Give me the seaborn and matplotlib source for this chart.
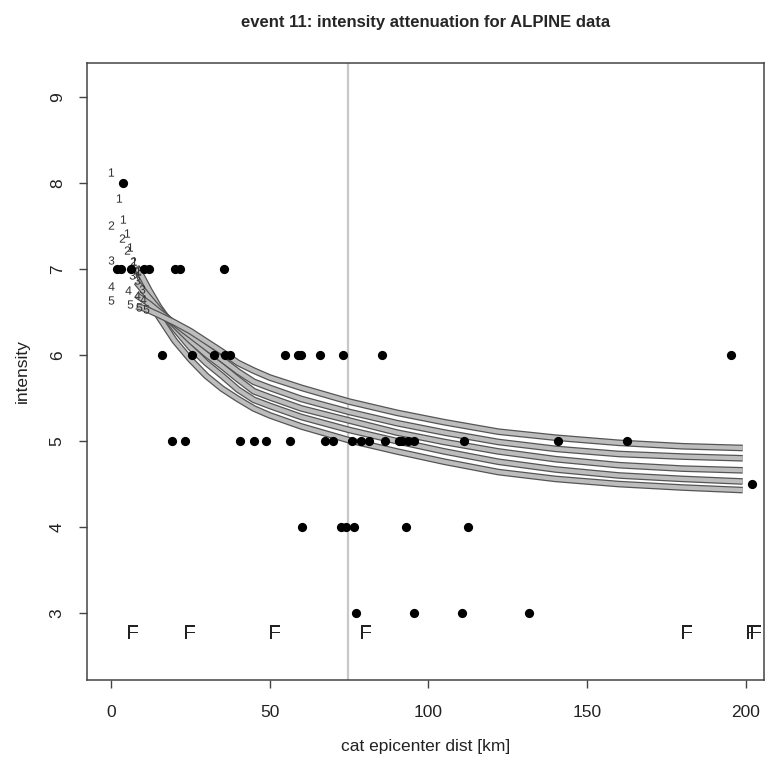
"""Intensity attenuation plot for event 11 (ALPINE data), redrawn with seaborn."""

import matplotlib

matplotlib.use("Agg")
import matplotlib.patheffects as pe
import matplotlib.pyplot as plt
import numpy as np
import pandas as pd
import seaborn as sns

# observed intensities (black dots): epicentral distance [km] and intensity
obs_dist = [3.8,
            1.9, 3.1, 6.3, 10.4, 11.9, 20.1, 21.7, 35.5,
            16.1, 25.6, 32.5, 35.8, 37.4, 54.9, 58.9, 60.0, 65.8, 73.1, 85.3, 195.2,
            19.3, 23.3, 40.8, 45.0, 48.7, 56.3, 67.5, 69.9, 75.9, 78.8, 81.4, 86.2,
            90.7, 91.8, 93.7, 95.3, 111.3, 140.7, 162.4,
            201.9,
            60.3, 72.5, 74.1, 76.7, 92.8, 112.4,
            77.3, 95.6, 110.6, 131.8]
obs_int = [8,
           7, 7, 7, 7, 7, 7, 7, 7,
           6, 6, 6, 6, 6, 6, 6, 6, 6, 6, 6, 6,
           5, 5, 5, 5, 5, 5, 5, 5, 5, 5, 5, 5,
           5, 5, 5, 5, 5, 5, 5,
           4.5,
           4, 4, 4, 4, 4, 4,
           3, 3, 3, 3]

# felt reports ("F") along the bottom
felt_dist = [7.0, 24.8, 51.6, 80.2, 181.4, 201.9, 203.1]
felt_int = [2.78] * len(felt_dist)

# attenuation curves 1..5 (dense part, drawn as bands)
curve_dist = [8, 10, 12, 15, 20, 25, 30, 35, 40, 45, 50,
              60, 75, 90, 105, 122, 140, 160, 180, 199]
curve_1 = [7.02, 6.82, 6.65, 6.45, 6.17, 5.95, 5.76, 5.61, 5.49, 5.38, 5.30,
           5.17, 5.01, 4.88, 4.76, 4.64, 4.56, 4.50, 4.46, 4.43]
curve_2 = [7.03, 6.90, 6.76, 6.57, 6.31, 6.09, 5.91, 5.76, 5.60, 5.48, 5.41,
           5.28, 5.13, 5.00, 4.88, 4.76, 4.67, 4.60, 4.56, 4.53]
curve_3 = [6.85, 6.76, 6.67, 6.54, 6.35, 6.17, 6.01, 5.87, 5.72, 5.58, 5.51,
           5.38, 5.24, 5.10, 4.99, 4.88, 4.79, 4.72, 4.68, 4.66]
curve_4 = [6.70, 6.65, 6.60, 6.51, 6.37, 6.23, 6.09, 5.95, 5.81, 5.69, 5.62,
           5.49, 5.34, 5.21, 5.10, 4.99, 4.91, 4.85, 4.82, 4.80]
curve_5 = [6.57, 6.55, 6.52, 6.47, 6.38, 6.28, 6.16, 6.04, 5.91, 5.82, 5.74,
           5.62, 5.46, 5.33, 5.22, 5.11, 5.04, 4.98, 4.94, 4.92]
curve_labels = ["1", "2", "3", "4", "5"]

# the sparse digits close to the source, where the curves are still separate
near_dist_1 = [0, 2.6, 3.9, 4.9, 6.0, 7.3, 8.5]
near_int_1 = [8.13, 7.83, 7.59, 7.42, 7.26, 7.10, 6.98]
near_dist_2 = [0, 3.4, 5.1, 7.0, 8.6]
near_int_2 = [7.51, 7.36, 7.22, 7.10, 6.99]
near_dist_3 = [0, 6.5, 8.3, 9.8]
near_int_3 = [7.11, 6.93, 6.87, 6.77]
near_dist_4 = [0, 5.4, 8.1, 10.0]
near_int_4 = [6.81, 6.76, 6.70, 6.65]
near_dist_5 = [0, 6.0, 8.9, 11.0]
near_int_5 = [6.64, 6.59, 6.56, 6.54]

# position of the grey reference line
ref_dist = 74.6

x_ticks = [0, 50, 100, 150, 200]
y_ticks = [3, 4, 5, 6, 7, 8, 9]

curves = pd.DataFrame({
    "dist": curve_dist * 5,
    "intensity": curve_1 + curve_2 + curve_3 + curve_4 + curve_5,
    "curve": np.repeat(curve_labels, len(curve_dist)),
})
near = pd.DataFrame({
    "dist": near_dist_1 + near_dist_2 + near_dist_3 + near_dist_4 + near_dist_5,
    "intensity": near_int_1 + near_int_2 + near_int_3 + near_int_4 + near_int_5,
    "curve": (["1"] * len(near_dist_1) + ["2"] * len(near_dist_2) + ["3"] * len(near_dist_3)
              + ["4"] * len(near_dist_4) + ["5"] * len(near_dist_5)),
})

sns.set_style("ticks")
plt.rcParams["font.family"] = ["Liberation Sans", "DejaVu Sans"]
plt.rcParams["mathtext.fontset"] = "custom"
plt.rcParams["mathtext.rm"] = "Liberation Sans"

fig = plt.figure(figsize=(7.65, 7.6), dpi=100)
ax = fig.add_axes([87 / 765, 80 / 760, 677 / 765, 617 / 760])

ax.axvline(ref_dist, color="#c8c8c8", lw=1.6, zorder=1)

for lab in curve_labels:
    band = curves[curves["curve"] == lab]
    sns.lineplot(data=band, x="dist", y="intensity", ax=ax, color="#bdbdbd", lw=3.0,
                 zorder=2, legend=False, solid_capstyle="butt",
                 path_effects=[pe.Stroke(linewidth=4.8, foreground="#555555",
                                         capstyle="butt"), pe.Normal()])
    sns.scatterplot(data=near[near["curve"] == lab], x="dist", y="intensity", ax=ax,
                    marker=rf"$\mathrm{{{lab}}}$", s=36, color="#333333",
                    linewidth=0, zorder=3, legend=False)

sns.scatterplot(x=obs_dist, y=obs_int, ax=ax, color="black", s=44, linewidth=0, zorder=4)
sns.scatterplot(x=felt_dist, y=felt_int, ax=ax, marker=r"$\mathrm{F}$", s=95,
                color="#222222", linewidth=0, zorder=4)

ax.set_xlim(-7.55, 205.7)
ax.set_ylim(2.22, 9.4)
ax.set_xticks(x_ticks)
ax.set_yticks(y_ticks)
ax.set_yticklabels([str(v) for v in y_ticks], rotation=90, va="center")
ax.tick_params(axis="both", direction="out", length=6, width=1, color="#444444",
               labelsize=12.5, labelcolor="#222222")
ax.tick_params(axis="x", pad=12)
ax.tick_params(axis="y", pad=10)
for side in ["top", "right", "bottom", "left"]:
    ax.spines[side].set_visible(True)
    ax.spines[side].set_color("#444444")
    ax.spines[side].set_linewidth(1.1)

ax.set_xlabel("cat epicenter dist [km]", fontsize=12.5, color="#222222", labelpad=14)
ax.set_ylabel("intensity", fontsize=12.5, color="#222222", labelpad=14)
ax.set_title("event 11: intensity attenuation for ALPINE data", fontsize=12,
             fontweight="bold", pad=26)

fig.savefig("out.png", dpi=100)
